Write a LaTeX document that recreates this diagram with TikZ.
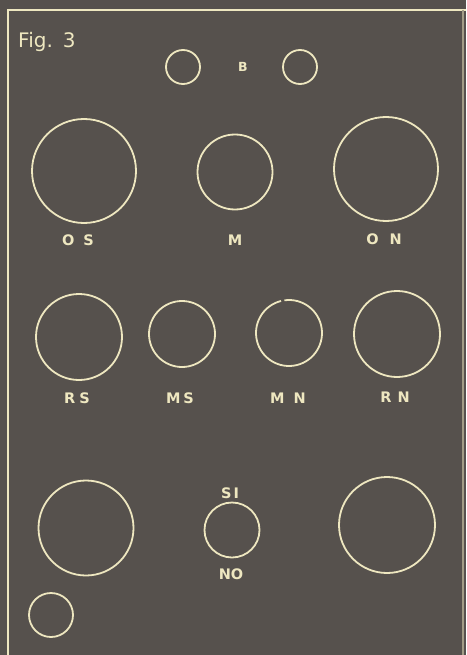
\documentclass[tikz,border=0pt]{standalone}
\usepackage{fontspec}
\setmainfont{DejaVu Sans}
\definecolor{bg}{RGB}{86,81,77}
\definecolor{ink}{RGB}{238,231,192}
\tikzset{
  ring/.style={draw=ink, line width=1.8pt},
  frame/.style={draw=ink, line width=1.8pt},
  lbl/.style={text=ink, font=\bfseries\fontsize{14.5}{16}\selectfont, inner sep=0pt},
}
\begin{document}
\begin{tikzpicture}[x=1pt,y=-1pt]
\fill[bg] (0,0) rectangle (466,655);
\useasboundingbox (0,0) rectangle (466,655);
% frame
\coordinate (tl) at (8,10);
\coordinate (tr) at (466,10);
\coordinate (bl) at (8,655);
\coordinate (rt) at (463,10);
\coordinate (rb) at (463,655);
\draw[frame] (bl) -- (tl) -- (tr);
\draw[draw=ink!50!bg, line width=1.2pt] (rt) -- (rb);
% title
\node[text=ink, font=\fontsize{20}{22}\selectfont, inner sep=0pt, anchor=base west] (fig) at (18,48) {Fig.\hspace{10pt}3};
% B pair
\draw[ring] (183,67) circle (17);
\draw[ring] (300,67) circle (17);
\node[lbl, font=\bfseries\fontsize{12.5}{13}\selectfont] (b) at (243,67) {B};
% row 1
\draw[ring] (84,171) circle (52);
\draw[ring] (235,172) circle (37.5);
\draw[ring] (386,169) circle (52);
\node[lbl] (os) at (78,240) {O\hspace{9pt}S};
\node[lbl] (m) at (235,240) {M};
\node[lbl] (on) at (384,239) {O\hspace{11pt}N};
% row 2
\draw[ring] (79,337) circle (43);
\draw[ring] (182,334) circle (33);
\draw[ring] (289,333) ++(262:33) arc (262:616:33);
\draw[ring] (397,334) circle (43);
\node[lbl] (rs) at (77,398) {R\hspace{4pt}S};
\node[lbl] (ms) at (180,398) {M\hspace{3pt}S};
\node[lbl] (mn) at (288,398) {M\hspace{9pt}N};
\node[lbl] (rn) at (395,397) {R\hspace{6pt}N};
% row 3
\draw[ring] (86,528) circle (47.5);
\draw[ring] (232,530) circle (27.5);
\draw[ring] (387,525) circle (48);
\draw[ring] (51,615) circle (22);
\node[lbl] (si) at (230,493) {S\hspace{2pt}I};
\node[lbl] (no) at (231,574) {NO};
\end{tikzpicture}
\end{document}
